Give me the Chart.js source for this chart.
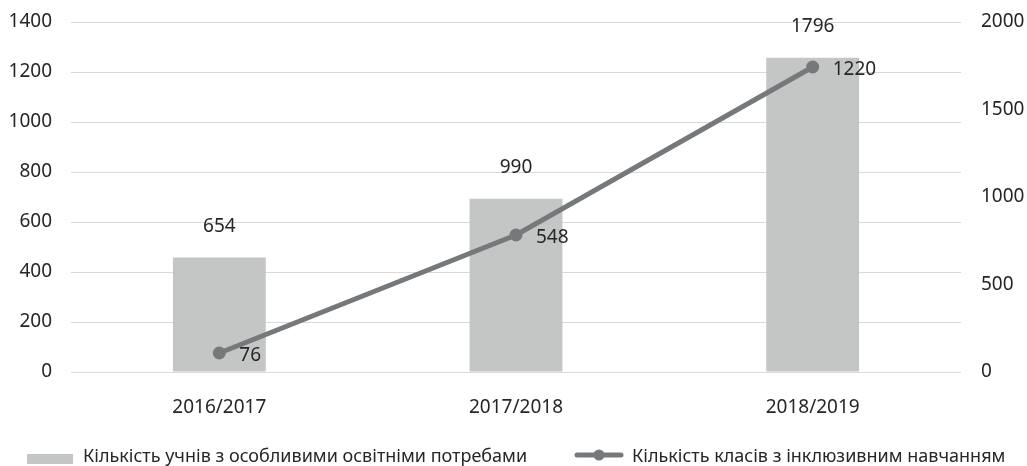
<!DOCTYPE html>
<html>
<head>
<meta charset="utf-8">
<script src="https://cdn.jsdelivr.net/npm/chart.js@4/dist/chart.umd.min.js"></script>
<style>
  html, body { margin: 0; padding: 0; background: #fff; }
  #wrap { width: 1027px; height: 466px; position: relative; }
</style>
</head>
<body>
<div id="wrap"><canvas id="c" width="1027" height="466"></canvas></div>
<script>
const categories = ['2016/2017', '2017/2018', '2018/2019'];
const pupilsLabel = 'Кількість учнів з особливими освітніми потребами';
const pupils = [654, 990, 1796];
const classesLabel = 'Кількість класів з інклюзивним навчанням';
const classes = [76, 548, 1220];
const leftTicks = [0, 200, 400, 600, 800, 1000, 1200, 1400];
const rightTicks = [0, 500, 1000, 1500, 2000];

const FONT = '"Noto Sans", sans-serif';
const TXT = '#262626';
const BAR = '#C4C6C6';
const LINE = '#76797C';
const GRID = '#D9D9D9';

const labelsPlugin = {
  id: 'valueLabels',
  afterDatasetsDraw(chart) {
    const ctx = chart.ctx;
    ctx.save();
    ctx.font = '19px ' + FONT;
    ctx.fillStyle = TXT;
    ctx.textBaseline = 'middle';
    chart.data.datasets.forEach((ds, di) => {
      const meta = chart.getDatasetMeta(di);
      meta.data.forEach((el, i) => {
        const v = ds.data[i];
        if (ds.type === 'bar') {
          ctx.textAlign = 'center';
          ctx.fillText(String(v), el.x, el.y - 31);
        } else {
          ctx.textAlign = 'left';
          ctx.fillText(String(v), el.x + 20, el.y + 3);
        }
      });
    });
    ctx.restore();
  }
};

const legendPlugin = {
  id: 'customLegend',
  afterDraw(chart) {
    const ctx = chart.ctx;
    ctx.save();
    ctx.font = '18px ' + FONT;
    const yc = 457;
    // item 1: bar swatch
    let x = 27;
    ctx.fillStyle = BAR;
    ctx.fillRect(x, 454, 46, 10);
    ctx.fillStyle = TXT;
    ctx.textBaseline = 'middle';
    ctx.textAlign = 'left';
    ctx.fillText(pupilsLabel, x + 56, yc);
    // item 2: line with marker
    x = 575;
    ctx.strokeStyle = LINE;
    ctx.lineWidth = 5;
    ctx.lineCap = 'round';
    ctx.beginPath();
    ctx.moveTo(x + 2, 455);
    ctx.lineTo(x + 46, 455);
    ctx.stroke();
    ctx.fillStyle = LINE;
    ctx.beginPath();
    ctx.arc(x + 24, 455, 5.5, 0, Math.PI * 2);
    ctx.fill();
    ctx.fillStyle = TXT;
    ctx.fillText(classesLabel, x + 57, yc);
    ctx.restore();
  }
};

new Chart(document.getElementById('c'), {
  data: {
    labels: categories,
    datasets: [
      {
        type: 'line',
        label: classesLabel,
        data: classes,
        yAxisID: 'y',
        borderColor: LINE,
        backgroundColor: LINE,
        borderWidth: 5,
        pointRadius: 6.5,
        pointBackgroundColor: LINE,
        pointBorderWidth: 0,
        tension: 0,
        order: 0
      },
      {
        type: 'bar',
        label: pupilsLabel,
        data: pupils,
        yAxisID: 'y1',
        backgroundColor: BAR,
        borderWidth: 0,
        categoryPercentage: 1,
        barPercentage: 0.313,
        order: 1
      }
    ]
  },
  options: {
    responsive: false,
    animation: false,
    devicePixelRatio: 1,
    layout: { padding: { top: 22, bottom: 0, left: 0, right: 0 } },
    plugins: { legend: { display: false }, tooltip: { enabled: false } },
    scales: {
      x: {
        grid: { display: false, drawTicks: false },
        border: { display: false },
        ticks: { color: TXT, font: { family: FONT, size: 19 }, padding: 24 },
        afterFit(s) { s.height = 94; }
      },
      y: {
        position: 'left',
        min: 0, max: 1400,
        afterBuildTicks(s) { s.ticks = leftTicks.map(v => ({ value: v })); },
        grid: { color: GRID, lineWidth: 1, drawTicks: false },
        border: { display: false },
        ticks: { color: TXT, font: { family: FONT, size: 19, lineHeight: 1 }, padding: 19, callback: v => String(v) },
        afterFit(s) { s.width = 71; s.paddingTop = 0; }
      },
      y1: {
        position: 'right',
        min: 0, max: 2000,
        afterBuildTicks(s) { s.ticks = rightTicks.map(v => ({ value: v })); },
        grid: { drawOnChartArea: false, drawTicks: false },
        border: { display: false },
        ticks: { color: TXT, font: { family: FONT, size: 19, lineHeight: 1 }, padding: 20, callback: v => String(v) },
        afterFit(s) { s.width = 66; s.paddingTop = 0; }
      }
    }
  },
  plugins: [labelsPlugin, legendPlugin]
});
</script>
</body>
</html>
